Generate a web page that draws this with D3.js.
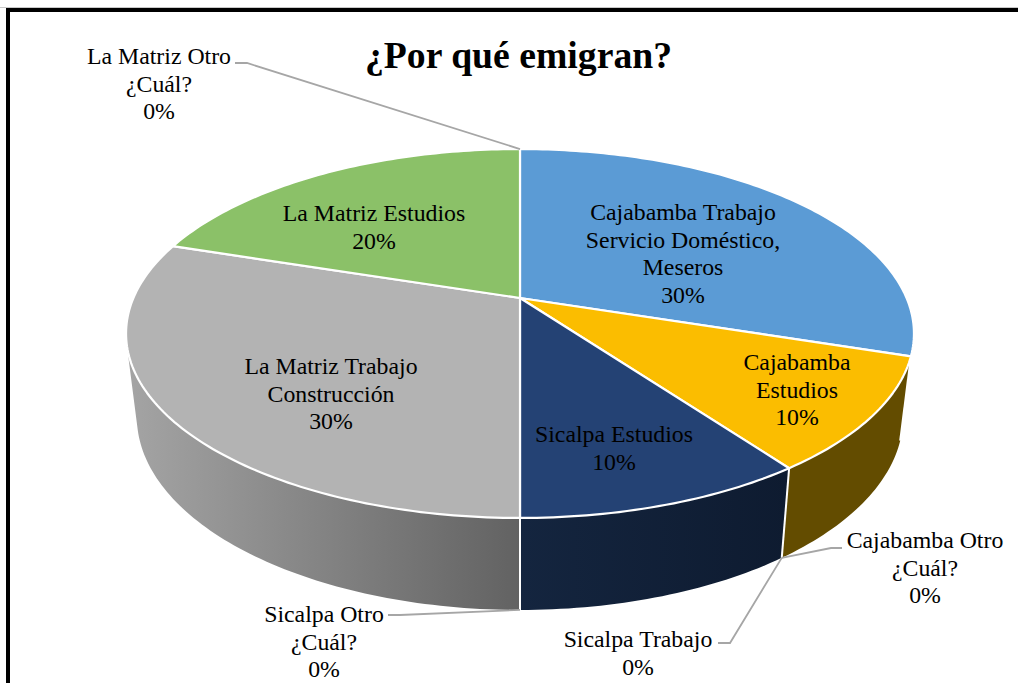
<!DOCTYPE html>
<html><head><meta charset="utf-8">
<script src="https://d3js.org/d3.v7.min.js"></script>
<style>html,body{margin:0;padding:0;background:#fff}svg{display:block}text{font-family:"Liberation Serif",serif;fill:#000}</style>
</head><body><svg id="c" width="1018" height="683"></svg>
<script>
const titleText = "¿Por qué emigran?";
const categories = ["Cajabamba Trabajo Servicio Doméstico, Meseros","Cajabamba Estudios","Cajabamba Otro ¿Cuál?","Sicalpa Trabajo","Sicalpa Estudios","Sicalpa Otro ¿Cuál?","La Matriz Trabajo Construcción","La Matriz Estudios","La Matriz Otro ¿Cuál?"];
const values = [30,10,0,0,10,0,30,20,0];
const topColors = ["#5b9bd5","#fbbd00","#a5a5a5","#264478","#244274","#636363","#b3b3b3","#8bc168","#999999"];
const sideColors = ["#3a6a96","#634c00","#555555","#14243f","url(#navySide)","#444444","url(#graySide)","#55783c","#666666"];
const labelLines = [
 ["Cajabamba Trabajo","Servicio Doméstico,","Meseros"],
 ["Cajabamba","Estudios"],
 ["Cajabamba Otro","¿Cuál?"],
 ["Sicalpa Trabajo"],
 ["Sicalpa Estudios"],
 ["Sicalpa Otro","¿Cuál?"],
 ["La Matriz Trabajo","Construcción"],
 ["La Matriz Estudios"],
 ["La Matriz Otro","¿Cuál?"]];
// label centre x and first baseline
const labelX = [683,797,925,638,614,324,331,374,159];
const labelY = [220,370,548,647,442,622,374,221,64];
// leader lines: label end, elbow; third point comes from the slice geometry
const leaderStart = [null,null,[842,548],[718,643],null,[388,615],null,null,[235,63]];
const leaderElbow = [null,null,[831,548],[730,643],null,[400,615],null,null,[247,63]];

const svg = d3.select("#c");
const defs = svg.append("defs");
const g1 = defs.append("linearGradient").attr("id","graySide").attr("gradientUnits","userSpaceOnUse").attr("x1",129).attr("x2",520).attr("y1",0).attr("y2",0);
g1.append("stop").attr("offset",0).attr("stop-color","#a4a4a4");
g1.append("stop").attr("offset",1).attr("stop-color","#626262");
const g2 = defs.append("linearGradient").attr("id","navySide").attr("gradientUnits","userSpaceOnUse").attr("x1",520).attr("x2",790).attr("y1",0).attr("y2",0);
g2.append("stop").attr("offset",0).attr("stop-color","#14253f");
g2.append("stop").attr("offset",1).attr("stop-color","#0e1b30");

// perspective disc: a point on the unit disc -> screen
const cx = 520, persp = -0.1924;
function disc(R, a, b){
  return ang => {
    const u = Math.sin(ang), v = -Math.cos(ang), w = 1 + persp*v;
    return [cx + R*u/w, (a + b*v)/w];
  };
}
const topDisc = disc(386.6, 298, 120.3);
const botDisc = disc(376, 379.6, 113);
const rad = d => d*Math.PI/180;
const visFrom = rad(108), visTo = rad(255);

const arcs = d3.pie().sort(null).value(d=>d).startAngle(0).endAngle(2*Math.PI)(values);
const line = d3.line();
const samples = (a0,a1) => { const n = Math.max(2,Math.ceil((a1-a0)/rad(1))); return d3.range(n+1).map(i=>a0+(a1-a0)*i/n); };

// outer frame
svg.append("rect").attr("x",0).attr("y",7).attr("width",1018).attr("height",1).attr("fill","#c8c8c8");
svg.append("rect").attr("x",6).attr("y",8).attr("width",1012).attr("height",4).attr("fill","#000");
svg.append("rect").attr("x",6).attr("y",8).attr("width",4).attr("height",675).attr("fill","#000");

// side walls
arcs.forEach((d,i)=>{
  const a0 = Math.max(d.startAngle,visFrom), a1 = Math.min(d.endAngle,visTo);
  if(a1<=a0 || d.value===0) return;
  const s = samples(a0,a1);
  const pts = s.map(topDisc).concat(s.slice().reverse().map(botDisc));
  svg.append("path").attr("d",line(pts)+"Z").attr("fill",sideColors[i]);
});
// vertical white edges between walls
arcs.forEach((d,i)=>{
  if(d.value===0) return;
  const a = d.startAngle;
  if(a>visFrom && a<visTo){
    svg.append("line").attr("x1",topDisc(a)[0]).attr("y1",topDisc(a)[1]).attr("x2",botDisc(a)[0]).attr("y2",botDisc(a)[1]).attr("stroke","#fff").attr("stroke-width",2);
  }
});
// top faces
arcs.forEach((d,i)=>{
  if(d.value===0) return;
  const pts = [[cx,298]].concat(samples(d.startAngle,d.endAngle).map(topDisc));
  svg.append("path").attr("d",line(pts)+"Z").attr("fill",topColors[i]).attr("stroke","#fff").attr("stroke-width",2.2).attr("stroke-linejoin","round");
});
// leader lines
arcs.forEach((d,i)=>{
  if(!leaderStart[i]) return;
  const a = d.startAngle;
  const end = (a>=visFrom && a<=visTo) ? botDisc(a) : topDisc(a);
  svg.append("path").attr("d",line([leaderStart[i],leaderElbow[i],end])).attr("fill","none").attr("stroke","#a6a6a6").attr("stroke-width",1.8);
});
// labels
const fs = 23.8, lh = 27.6;
arcs.forEach((d,i)=>{
  const t = svg.append("text").attr("text-anchor","middle").attr("font-size",fs);
  labelLines[i].concat([d.value+"%"]).forEach((s,j)=>{
    t.append("tspan").attr("x",labelX[i]).attr("y",labelY[i]+j*lh).text(s);
  });
});
svg.append("text").attr("x",518.5).attr("y",68).attr("text-anchor","middle").attr("font-size",37.7).attr("font-weight","bold").text(titleText);
</script></body></html>
